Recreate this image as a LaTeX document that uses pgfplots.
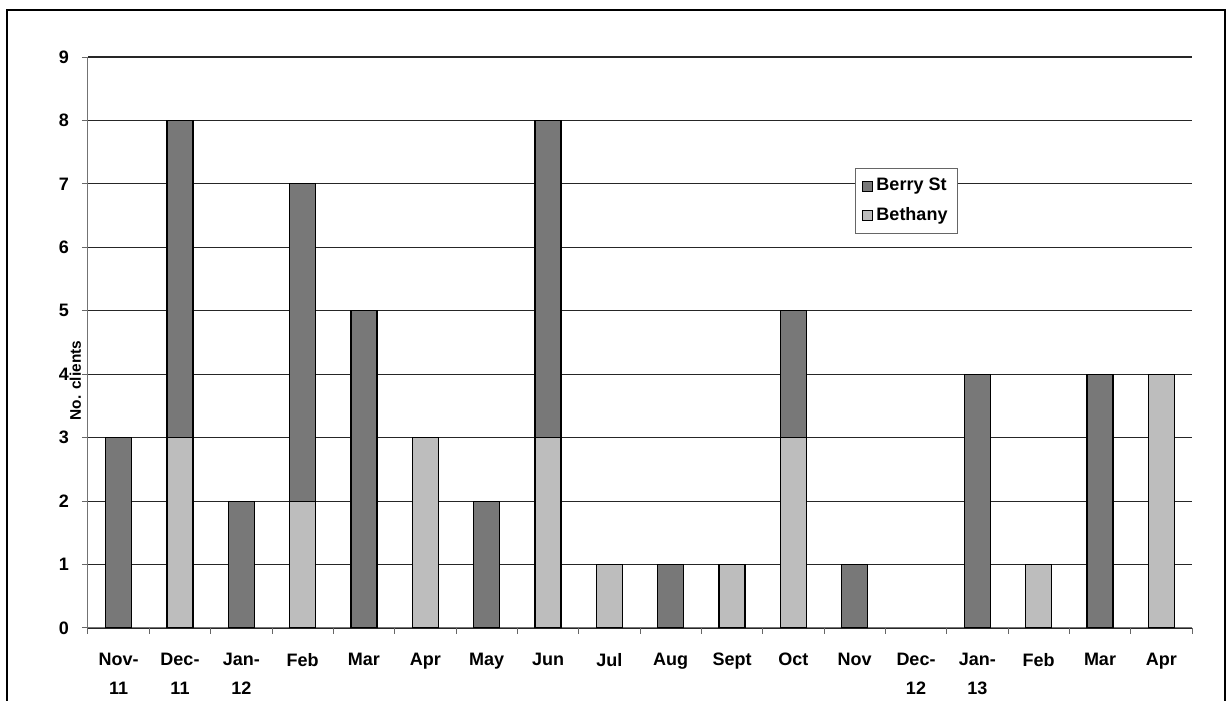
\documentclass[border=0pt]{standalone}
\usepackage{pgfplots}
\pgfplotsset{compat=1.18}
\usepackage{fontspec}
\setmainfont{Liberation Sans}
\definecolor{berry}{gray}{0.47}
\definecolor{bethany}{gray}{0.74}
\begin{document}
\begin{tikzpicture}
\useasboundingbox (-44pt,-36.5pt) rectangle (569pt,314pt);
\draw[line width=1.1pt] (-40.5pt,-45pt) rectangle (568.5pt,309pt);
\begin{axis}[
  scale only axis,
  width=552pt, height=285.5pt,
  ybar stacked,
  bar width=13pt,
  xmin=-0.5, xmax=17.5,
  ymin=0, ymax=9,
  ytick={0,...,9},
  xtick={0,...,17},
  xticklabels={{Nov-\\11},{Dec-\\11},{Jan-\\12},Feb,Mar,Apr,May,Jun,Jul,Aug,Sept,Oct,Nov,{Dec-\\12},{Jan-\\13},Feb,Mar,Apr},
  minor xtick={-0.5,0.5,...,17.5},
  major x tick style={draw=none},
  minor tick length=3pt,
  tick align=outside,
  major tick length=3pt,
  xtick pos=bottom, ytick pos=left,
  /pgf/number format/assume math mode=true,
  xticklabel style={align=center, font=\bfseries\fontsize{9}{14.5}\selectfont, yshift=-6pt, anchor=north},
  yticklabel style={font=\bfseries\fontsize{9}{11}\selectfont, xshift=-3pt},
  ylabel={No. clients},
  ylabel style={font=\bfseries\fontsize{7.7}{9}\selectfont, at={(axis description cs:0,0.5)}, xshift=-19pt},
  axis x line*=bottom, axis y line*=left,
  axis line style={black!55, line width=0.5pt},
  ymajorgrids,
  grid style={black!85, line width=0.55pt},
  every tick/.style={black!60, line width=0.5pt},
  legend style={at={(0.695,0.806)}, anchor=north west, draw=black!60, line width=0.4pt,
    font=\bfseries\fontsize{9}{11}\selectfont, row sep=3pt, inner sep=3pt,
    legend cell align=left},
  reverse legend,
  legend image code/.code={\draw[#1, line width=0.4pt] (-1.5pt,-2.5pt) rectangle (3.5pt,2.5pt);},
]
\addplot[fill=bethany, draw=black, line width=0.6pt] coordinates {
 (0,0) (1,3) (2,0) (3,2) (4,0) (5,3) (6,0) (7,3) (8,1) (9,0) (10,1) (11,3) (12,0) (13,0) (14,0) (15,1) (16,0) (17,4)};
\addplot[fill=berry, draw=black, line width=0.6pt] coordinates {
 (0,3) (1,5) (2,2) (3,5) (4,5) (5,0) (6,2) (7,5) (8,0) (9,1) (10,0) (11,2) (12,1) (13,0) (14,4) (15,0) (16,4) (17,0)};
\legend{Bethany, Berry St}
\end{axis}
\end{tikzpicture}
\end{document}
